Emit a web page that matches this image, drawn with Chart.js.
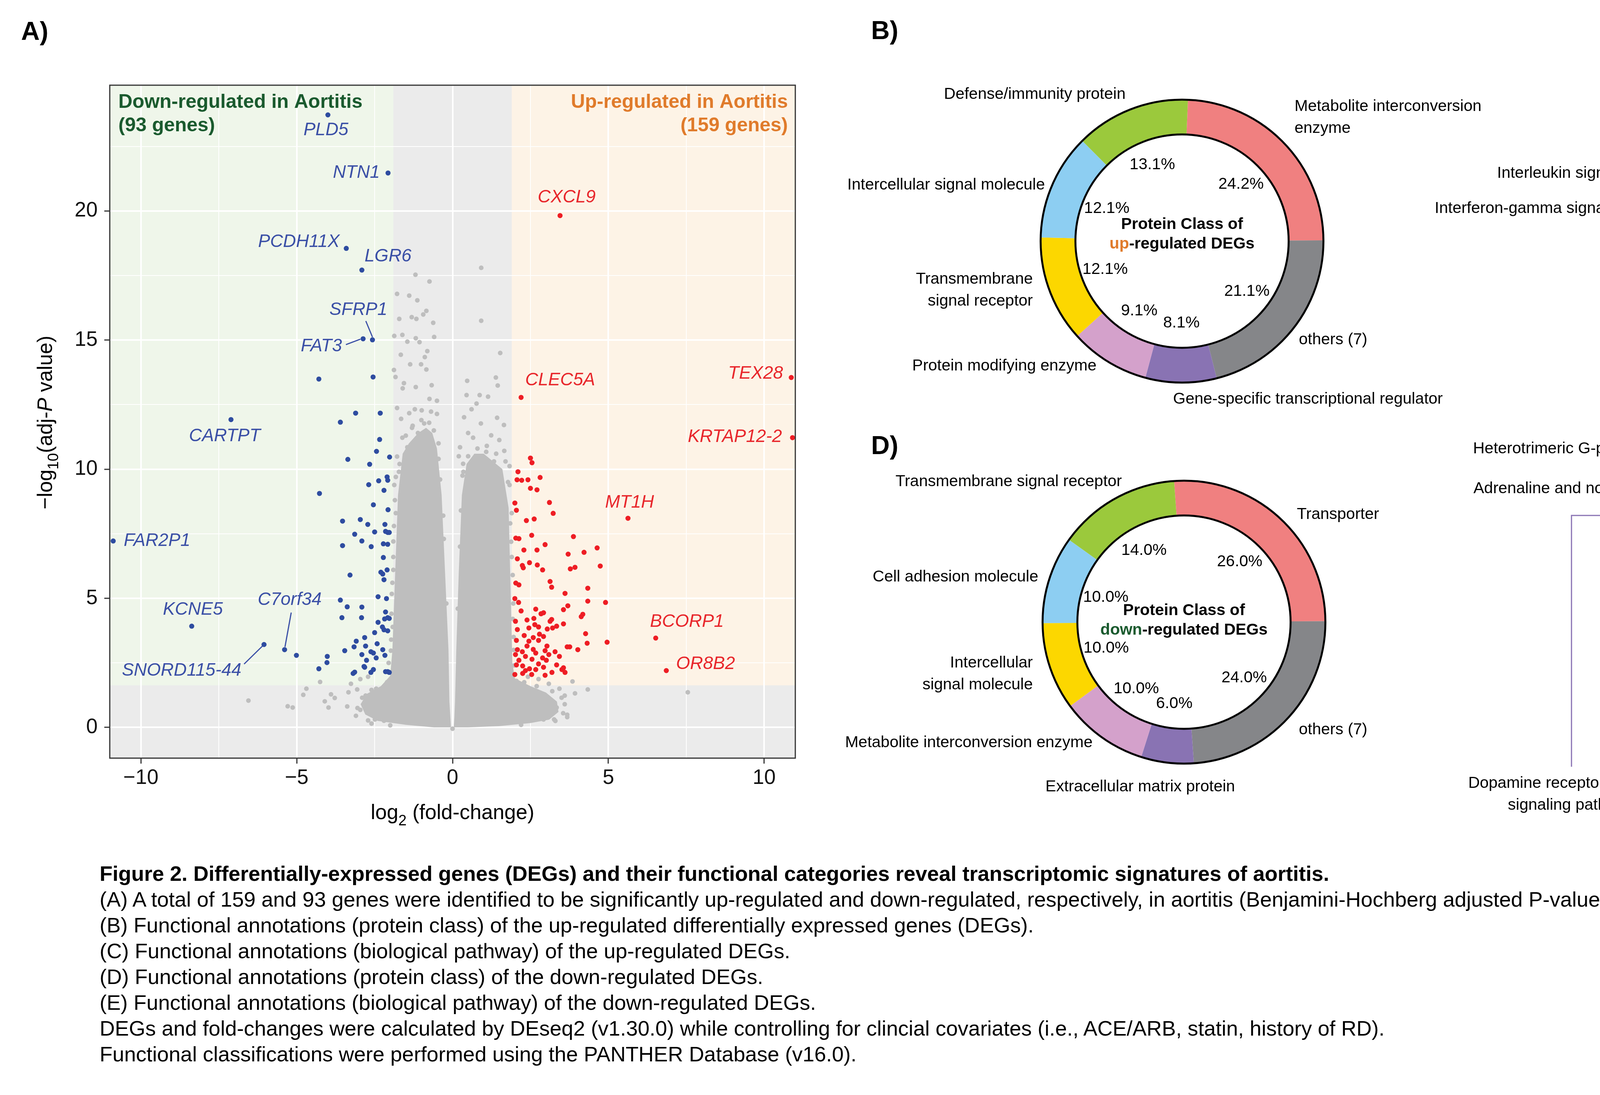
<!DOCTYPE html>
<html>
<head>
<meta charset="utf-8">
<script src="https://cdn.jsdelivr.net/npm/chart.js@4.4.1/dist/chart.umd.min.js"></script>
<style>
html, body { margin: 0; padding: 0; background: #fff; }
body { width: 5882px; height: 2802px; position: relative; overflow: hidden;
       font-family: "Liberation Sans", Arial, Helvetica, sans-serif; color: #000; }
canvas { position: absolute; }
.tag { position: absolute; font-weight: bold; font-size: 66px; line-height: 1; }
#caption { position: absolute; left: 255px; top: 2202px; font-size: 54px; line-height: 66px; white-space: nowrap; }
</style>
</head>
<body>
<div class="tag" style="left:54px;top:46px">A)</div>
<div class="tag" style="left:2230px;top:44px">B)</div>
<div class="tag" style="left:4113px;top:44px">C)</div>
<div class="tag" style="left:2230px;top:1106px">D)</div>
<div class="tag" style="left:4113px;top:1029px">E)</div>

<canvas id="volcano" width="2150" height="2150" style="left:0;top:0"></canvas>
<canvas id="donutB" width="1750" height="950" style="left:2050px;top:130px"></canvas>
<canvas id="donutC" width="2282" height="950" style="left:3600px;top:130px"></canvas>
<canvas id="donutD" width="1750" height="1000" style="left:2050px;top:1080px"></canvas>
<canvas id="donutE" width="2282" height="1040" style="left:3600px;top:1080px"></canvas>

<div id="caption">
<div><b>Figure 2. Differentially-expressed genes (DEGs) and their functional categories reveal transcriptomic signatures of aortitis.</b></div>
<div>(A) A total of 159 and 93 genes were identified to be significantly up-regulated and down-regulated, respectively, in aortitis (Benjamini-Hochberg adjusted P-value &lt; 0.01 and |log2(fold-change in mean expression values)| &gt; 2).</div>
<div>(B) Functional annotations (protein class) of the up-regulated differentially expressed genes (DEGs).</div>
<div>(C) Functional annotations (biological pathway) of the up-regulated DEGs.</div>
<div>(D) Functional annotations (protein class) of the down-regulated DEGs.</div>
<div>(E) Functional annotations (biological pathway) of the down-regulated DEGs.</div>
<div>DEGs and fold-changes were calculated by DEseq2 (v1.30.0) while controlling for clincial covariates (i.e., ACE/ARB, statin, history of RD).</div>
<div>Functional classifications were performed using the PANTHER Database (v16.0).</div>
</div>

<script>
const FONT = '"Liberation Sans", Arial, Helvetica, sans-serif';

// ---------- volcano data ----------
const xTicks = [-10, -7.5, -5, -2.5, 0, 2.5, 5, 7.5, 10];
const yTicks = [0, 2.5, 5, 7.5, 10, 12.5, 15, 17.5, 20, 22.5];
const fcCut = 1.9;      // shaded |log2FC| threshold
const sigCut = 1.63;    // shaded -log10 threshold

const downGenes = ["PLD5", "NTN1", "PCDH11X", "LGR6", "SFRP1", "FAT3", "CARTPT", "FAR2P1", "KCNE5", "C7orf34", "SNORD115-44"];
const downGeneX = [-4.00, -2.07, -3.41, -2.91, -2.57, -2.87, -7.11, -10.89, -8.37, -5.39, -6.05];
const downGeneY = [23.72, 21.47, 18.55, 17.71, 15.01, 15.05, 11.92, 7.22, 3.92, 3.01, 3.21];

const upGenes = ["CXCL9", "CLEC5A", "TEX28", "KRTAP12-2", "MT1H", "BCORP1", "OR8B2"];
const upGeneX = [3.45, 2.20, 10.87, 10.91, 5.63, 6.52, 6.86];
const upGeneY = [19.82, 12.78, 13.55, 11.22, 8.10, 3.46, 2.20];

const downX = [-4.29,-2.55,-3.60,-3.11,-2.32,-2.34,-2.44,-3.36,-2.02,-2.66,-2.10,-2.37,-2.08,-2.69,-2.20,-4.27,-2.54,-2.07,-3.53,-2.96,
  -2.72,-2.17,-2.15,-2.08,-2.50,-2.03,-3.14,-2.91,-3.53,-2.61,-2.22,-2.08,-2.22,-2.10,-2.30,-2.24,-3.29,-2.39,-3.60,-3.38,
  -2.91,-3.55,-2.15,-2.08,-2.03,-2.92,-2.18,-2.39,-2.25,-2.08,-2.20,-2.50,-2.82,-3.09,-2.42,-3.16,-5.01,-2.91,-2.62,-2.54,
  -2.24,-2.17,-4.02,-4.03,-2.76,-2.84,-2.82,-4.29,-3.14,-3.19,-2.62,-2.15,-2.08,-2.20,-2.12,-2.79,-2.03,-2.54,-3.46,-2.45];
const downY = [13.49,13.57,11.82,12.17,12.17,11.15,10.69,10.38,10.47,10.19,9.70,9.55,9.57,9.40,9.18,9.06,8.62,8.43,7.99,8.05,
  7.86,7.86,7.59,7.55,7.57,7.55,7.48,7.22,7.04,7.00,7.11,7.09,6.58,6.10,6.01,5.94,5.90,5.06,4.93,4.67,
  4.66,4.25,4.47,4.25,4.22,4.25,4.20,4.07,3.89,3.74,3.78,3.67,3.48,3.34,3.24,3.12,2.79,2.82,2.93,2.88,
  3.01,2.79,2.75,2.51,2.60,2.36,2.33,2.27,2.14,2.09,2.13,2.16,2.16,5.72,4.99,3.15,2.13,2.24,2.97,2.69];

const upX = [2.50,2.55,2.10,2.07,2.22,2.42,2.81,2.50,2.71,2.00,2.05,3.11,3.23,2.37,2.62,2.03,2.13,2.54,2.97,3.88,
  2.29,2.71,4.64,4.22,3.71,2.08,2.47,2.24,2.27,2.72,2.89,3.78,3.93,4.74,2.03,2.13,3.13,3.18,3.61,4.34,
  3.70,4.34,4.91,2.00,2.12,2.20,2.67,2.84,2.92,3.56,4.18,4.13,2.02,2.39,2.61,3.13,3.34,3.56,2.08,2.45,
  2.76,3.04,3.21,4.27,2.30,2.59,2.92,2.05,2.45,2.76,4.96,4.32,3.68,3.03,4.02,3.76,2.08,2.59,2.24,2.02,
  2.34,2.67,3.09,3.29,2.13,2.55,2.89,3.43,2.05,2.25,2.76,3.01,2.47,2.92,3.51,3.61,2.00,2.25,2.54,2.97,
  3.19,3.56,2.34,3.34,2.67,3.18,2.64,2.79,2.39,2.97];
const upY = [10.43,10.25,9.90,9.59,9.57,9.59,9.68,9.26,9.20,8.69,8.41,8.71,8.29,8.01,8.07,7.33,7.31,7.44,7.08,7.39,
  6.87,6.87,6.95,6.78,6.71,6.53,6.38,6.27,6.18,6.29,6.10,6.14,6.20,6.25,5.59,5.52,5.65,5.43,5.19,5.39,
  4.71,4.89,4.84,4.99,4.84,4.51,4.58,4.40,4.44,4.56,4.38,4.29,4.11,4.16,4.22,4.11,3.92,4.01,3.79,3.85,
  3.89,3.81,3.85,3.63,3.56,3.48,3.52,3.37,3.34,3.37,3.30,3.26,3.12,3.15,3.01,3.12,3.01,3.02,2.93,2.82,
  2.75,2.88,2.82,2.93,2.60,2.64,2.69,2.75,2.42,2.38,2.46,2.60,2.27,2.33,2.24,2.13,2.05,2.09,2.05,2.02,
  2.13,2.31,2.20,2.42,2.24,4.18,3.98,3.61,3.15,2.97];

// non-significant genes scattered outside / along the edge of the dense core
const nsX = [-1.19,-0.74,0.92,-1.78,-1.39,-1.13,-0.84,-1.31,-1.16,-0.62,-1.71,0.92,-0.94,-1.87,-1.61,-1.45,-1.18,-1.06,-0.59,-1.66,
  -0.81,-0.89,1.53,-1.88,-1.36,-1.01,-0.84,-1.83,-1.56,-1.18,-0.67,0.47,1.39,1.45,-1.60,-0.50,-0.74,0.45,0.87,1.14,
  0.77,0.37,1.43,1.65,-1.78,-1.65,-1.39,-1.21,-0.99,-0.69,-0.50,0.61,0.91,0.50,0.66,1.24,1.50,0.24,1.08,1.66,
  1.33,1.83,0.74,0.34,-1.11,-1.28,-0.91,-1.61,-1.45,-1.78,-1.87,-1.72,-1.82,-1.90,-1.90,-1.95,-1.92,-1.98,1.83,1.90,
  1.88,1.93,1.95,1.96,1.98,0.32,-0.45,0.20,
  -6.55,-5.29,-5.13,-4.79,-4.69,-4.25,-4.10,-3.98,-3.90,-3.78,-3.38,-3.34,-3.06,-3.26,-2.96,-2.71,-2.79,-2.62,-2.49,-2.71,
  -2.20,-2.96,3.26,3.34,3.68,3.43,3.60,3.85,3.93,4.34,3.68,2.92,3.03,3.09,2.76,2.42,7.55,2.25,2.67,2.25,0.00,
  -1.70,-1.50,-1.30,-1.00,-0.75,-0.60,-0.45,-0.40,-1.82,-1.85,-1.88,-1.90,-1.93,-1.96,-1.97,-2.05,-2.10,-2.45,-2.60,-2.90,
  -3.05,-3.10,-2.60,-2.00,-0.30,-0.28,-0.20,
  0.35,0.50,0.80,1.10,1.40,1.70,1.78,1.85,1.90,1.93,1.96,2.05,2.30,2.70,3.20,3.50,3.60,3.55,3.30,2.20,
  0.27,0.24,0.17];
const nsY = [17.53,17.27,17.80,16.79,16.72,16.54,16.13,15.89,15.82,15.67,15.82,15.75,15.99,15.16,15.20,14.94,15.07,14.92,15.12,14.43,
  14.57,14.34,14.50,13.84,14.06,14.06,13.86,13.57,13.33,13.18,13.25,13.42,13.55,13.24,13.13,12.65,12.72,12.87,12.87,12.81,
  12.54,12.01,11.99,11.71,12.37,11.95,12.17,12.32,12.28,12.23,12.14,12.32,11.77,11.40,11.22,11.31,11.13,10.85,10.67,10.71,
  10.30,10.12,10.39,10.21,11.40,11.68,11.77,11.22,10.85,10.49,9.39,9.90,8.30,7.20,6.10,5.17,3.89,2.97,9.39,8.30,
  7.19,5.90,4.80,3.50,2.40,9.75,11.00,10.50,
  1.04,0.82,0.77,1.26,1.50,1.76,1.01,0.77,1.28,1.14,0.81,1.36,1.47,1.69,1.87,1.96,1.23,0.77,0.31,0.27,
  0.26,0.68,0.31,0.77,0.49,1.50,1.23,1.78,1.32,1.47,0.40,0.31,1.14,1.69,1.87,1.96,1.36,0.59,0.86,1.32,-0.05,
  10.20,11.30,11.60,11.90,11.80,11.50,10.40,9.60,9.70,8.80,7.80,6.60,5.60,4.40,3.40,2.50,1.75,1.50,1.45,1.15,
  0.75,0.45,0.15,0.08,8.20,7.30,4.80,
  9.90,10.50,10.80,10.90,10.60,10.30,9.50,7.90,6.60,4.20,3.00,1.80,1.75,1.60,1.40,1.15,0.90,0.55,0.25,0.10,
  8.40,7.00,4.60];

// outline of the dense cloud of non-significant genes (two lobes)
const coreLeftX = [-0.05,-0.07,-0.10,-0.13,-0.24,-0.35,-0.50,-0.65,-0.85,-1.10,-1.40,-1.60,-1.75,-1.84,-1.93,-2.00,-2.30,-2.75,-2.95,-2.80,-2.40,-1.50,-0.60,-0.20];
const coreLeftY = [0.00,0.40,1.00,3.00,6.00,9.00,10.80,11.40,11.60,11.40,11.00,10.60,9.00,6.00,3.00,2.00,1.60,1.30,0.90,0.50,0.25,0.10,0.00,0.00];
const coreRightX = [0.04,0.06,0.08,0.12,0.20,0.30,0.45,0.70,1.00,1.30,1.60,1.80,1.87,1.92,2.00,2.50,3.00,3.35,3.40,3.10,2.50,1.50,0.50];
const coreRightY = [0.00,0.40,1.00,3.00,6.00,9.00,10.20,10.60,10.60,10.30,10.00,8.50,5.00,2.50,1.90,1.60,1.35,1.00,0.60,0.30,0.17,0.05,0.00];

// label placement (pixels from the gene's point)
const geneLabelLayout = {
  "PLD5": { align: "center", dx: -5, dy: 39 },
  "NTN1": { align: "right", dx: -21, dy: 0 },
  "PCDH11X": { align: "right", dx: -17, dy: -16 },
  "LGR6": { align: "center", dx: 67, dy: -35 },
  "SFRP1": { align: "center", dx: -36, dy: -76, line: [-17, -48, 0, -7] },
  "FAT3": { align: "right", dx: -54, dy: 19, line: [-44, 15, -7, 1] },
  "CARTPT": { align: "center", dx: -16, dy: 42 },
  "FAR2P1": { align: "left", dx: 27, dy: 0 },
  "KCNE5": { align: "center", dx: 3, dy: -42 },
  "C7orf34": { align: "center", dx: 13, dy: -127, line: [17, -95, 1, -7] },
  "SNORD115-44": { align: "right", dx: -58, dy: 67, line: [-51, 50, -4, 4] },
  "CXCL9": { align: "center", dx: 17, dy: -46 },
  "CLEC5A": { align: "center", dx: 100, dy: -44 },
  "TEX28": { align: "right", dx: -21, dy: -10 },
  "KRTAP12-2": { align: "right", dx: -27, dy: -2 },
  "MT1H": { align: "center", dx: 4, dy: -40 },
  "BCORP1": { align: "center", dx: 80, dy: -42 },
  "OR8B2": { align: "left", dx: 25, dy: -17 }
};

const isMajor = v => Math.abs(v % 5) < 1e-9;
const fmtTick = v => (v < 0 ? "\u2212" + Math.abs(v) : String(v));
const pts = (xs, ys) => xs.map((v, i) => ({ x: v, y: ys[i] }));

function richText(ctx, parts, x, y, size) {
  const fontOf = s => (s === "i" ? "italic " : "") + Math.round(s === "sub" ? size * 0.72 : size) + "px " + FONT;
  let w = 0;
  parts.forEach(p => { ctx.font = fontOf(p[1]); w += ctx.measureText(p[0]).width; });
  let cx = x - w / 2;
  ctx.textAlign = "left";
  ctx.textBaseline = "alphabetic";
  parts.forEach(p => {
    ctx.font = fontOf(p[1]);
    ctx.fillText(p[0], cx, y + (p[1] === "sub" ? size * 0.3 : 0));
    cx += ctx.measureText(p[0]).width;
  });
}

function drawGeneLabels(ctx, xs, ys, names, gx, gy, color) {
  ctx.fillStyle = color;
  ctx.strokeStyle = color;
  ctx.lineWidth = 3;
  ctx.font = "italic 46px " + FONT;
  ctx.textBaseline = "middle";
  names.forEach((n, i) => {
    const L = geneLabelLayout[n];
    const px = xs.getPixelForValue(gx[i]), py = ys.getPixelForValue(gy[i]);
    ctx.textAlign = L.align;
    ctx.fillText(n, px + L.dx, py + L.dy);
    if (L.line) {
      ctx.beginPath();
      ctx.moveTo(px + L.line[0], py + L.line[1]);
      ctx.lineTo(px + L.line[2], py + L.line[3]);
      ctx.stroke();
    }
  });
}

const volcanoDeco = {
  id: "volcanoDeco",
  beforeDraw(chart) {
    const { ctx, chartArea: a, scales: { x, y } } = chart;
    const yb = y.getPixelForValue(sigCut);
    const xl = x.getPixelForValue(-fcCut), xr = x.getPixelForValue(fcCut);
    ctx.save();
    ctx.fillStyle = "#EBEBEB";
    ctx.fillRect(a.left, a.top, a.width, a.height);
    ctx.fillStyle = "#EFF6EA";
    ctx.fillRect(a.left, a.top, xl - a.left, yb - a.top);
    ctx.fillStyle = "#FDF3E6";
    ctx.fillRect(xr, a.top, a.right - xr, yb - a.top);
    ctx.restore();
  },
  beforeDatasetsDraw(chart) {
    const { ctx, chartArea: a, scales: { x, y } } = chart;
    ctx.save();
    ctx.beginPath();
    ctx.rect(a.left, a.top, a.width, a.height);
    ctx.clip();
    ctx.fillStyle = "#BEBEBE";
    [[coreLeftX, coreLeftY], [coreRightX, coreRightY]].forEach(([cx, cy]) => {
      ctx.beginPath();
      cx.forEach((v, i) => {
        const px = x.getPixelForValue(v), py = y.getPixelForValue(cy[i]);
        if (i === 0) ctx.moveTo(px, py); else ctx.lineTo(px, py);
      });
      ctx.closePath();
      ctx.fill();
    });
    ctx.restore();
  },
  afterDatasetsDraw(chart) {
    const { ctx, chartArea: a, scales: { x, y } } = chart;
    ctx.save();
    drawGeneLabels(ctx, x, y, downGenes, downGeneX, downGeneY, "#3A4FA6");
    drawGeneLabels(ctx, x, y, upGenes, upGeneX, upGeneY, "#E8262B");

    ctx.font = "bold 50px " + FONT;
    ctx.textBaseline = "alphabetic";
    ctx.fillStyle = "#1A5A2E";
    ctx.textAlign = "left";
    ctx.fillText("Down-regulated in Aortitis", a.left + 22, a.top + 58);
    ctx.fillText("(93 genes)", a.left + 22, a.top + 118);
    ctx.fillStyle = "#E07B2B";
    ctx.textAlign = "right";
    ctx.fillText("Up-regulated in Aortitis", a.right - 19, a.top + 58);
    ctx.fillText("(159 genes)", a.right - 19, a.top + 118);

    ctx.strokeStyle = "#333";
    ctx.lineWidth = 3;
    ctx.strokeRect(a.left, a.top, a.width, a.height);
    ctx.restore();
  },
  afterDraw(chart) {
    const { ctx, chartArea: a } = chart;
    ctx.save();
    ctx.fillStyle = "#000";
    richText(ctx, [["log", "n"], ["2", "sub"], [" (fold-change)", "n"]], (a.left + a.right) / 2, 2096, 53);
    ctx.translate(114, 1081);
    ctx.rotate(-Math.PI / 2);
    richText(ctx, [["\u2212log", "n"], ["10", "sub"], ["(adj-", "n"], ["P", "i"], [" value)", "n"]], 0, 19, 53);
    ctx.restore();
  }
};

const axisCommon = (ticksArr) => ({
  type: "linear",
  afterBuildTicks: s => { s.ticks = ticksArr.map(v => ({ value: v })); },
  border: { display: false },
  grid: {
    color: "#FFFFFF",
    lineWidth: c => (c.tick && isMajor(c.tick.value) ? 4 : 2),
    tickColor: c => (c.tick && isMajor(c.tick.value) ? "#333333" : "rgba(0,0,0,0)"),
    tickLength: 14,
    tickWidth: 3
  },
  ticks: {
    autoSkip: false,
    maxRotation: 0,
    color: "#111",
    font: { size: 53, family: FONT },
    callback: v => (isMajor(v) ? fmtTick(v) : "")
  }
});

const xAxis = axisCommon(xTicks);
xAxis.min = -11; xAxis.max = 11;
xAxis.afterFit = s => { s.height = 180; };
xAxis.ticks.padding = 6;
const yAxis = axisCommon(yTicks);
yAxis.min = -1.19; yAxis.max = 24.87;
yAxis.afterFit = s => { s.width = 281; };
yAxis.ticks.padding = 17;

new Chart(document.getElementById("volcano"), {
  type: "scatter",
  data: {
    datasets: [
      { label: "NS", data: pts(nsX, nsY), backgroundColor: "#BEBEBE", pointRadius: 6, borderWidth: 0, order: 3 },
      { label: "Down", data: pts(downX.concat(downGeneX), downY.concat(downGeneY)), backgroundColor: "#2E4CA0", pointRadius: 6.5, borderWidth: 0, order: 2 },
      { label: "Up", data: pts(upX.concat(upGeneX), upY.concat(upGeneY)), backgroundColor: "#EE1D24", pointRadius: 6.5, borderWidth: 0, order: 1 }
    ]
  },
  options: {
    responsive: false,
    animation: false,
    devicePixelRatio: 1,
    events: [],
    layout: { padding: { left: 0, top: 218, right: 114, bottom: 30 } },
    plugins: { legend: { display: false }, tooltip: { enabled: false } },
    scales: { x: xAxis, y: yAxis }
  },
  plugins: [volcanoDeco]
});

// ---------- donut data ----------
const ringColors = ["#F08080", "#858689", "#8973B3", "#D4A1CB", "#FCD700", "#8DCEF2", "#9BC93C"];

const bLabels = ["Metabolite interconversion enzyme", "others (7)", "Gene-specific transcriptional regulator",
  "Protein modifying enzyme", "Transmembrane signal receptor", "Intercellular signal molecule", "Defense/immunity protein"];
const bValues = [24.2, 21.1, 8.1, 9.1, 12.1, 12.1, 13.1];

const cLabels = ["Inflammation medication by chemokine and cytokine signaling pathway", "others (15)",
  "Interferon-gamma signaling pathway", "Interleukin signaling pathway", "B cell activation", "Blood coagulation", "Parkinson disease"];
const cValues = [20.7, 51.0, 3.4, 3.4, 6.9, 6.9, 6.9];

const dLabels = ["Transporter", "others (7)", "Extracellular matrix protein", "Metabolite interconversion enzyme",
  "Intercellular signal molecule", "Cell adhesion molecule", "Transmembrane signal receptor"];
const dValues = [26.0, 24.0, 6.0, 10.0, 10.0, 10.0, 14.0];

const eLabels = ["Alpha adrendergic receptor signaling pathway", "Cadherin signaling pathway", "Wnt signaling pathway",
  "others (35)", "Dopamine receptor mediated signaling pathway", "Adrenaline and noradrenaline biosynthesis",
  "Heterotrimeric G-protein signaling pathway-Gi alpha and Gs alpha mediated pathway"];
const eValues = [5.4, 8.8, 10.6, 62.6, 3.6, 3.6, 5.4];
const eColors = ["#8DCEF2", "#9BC93C", "#F08080", "#858689", "#8973B3", "#D4A1CB", "#FCD700"];

// layout of each donut: centre (page px), rotation, label offsets from centre
const donutLayouts = {
  donutB: {
    left: 2050, top: 130, cx: 3026, cy: 617, rotation: 2.4,
    title: ["Protein Class of", "up", "-regulated DEGs"], titleDy: -42, accent: "#E07B2B",
    outer: [
      { align: "left", dx: 288, dy: -344, brk: 2 },
      { align: "left", dx: 299, dy: 253 },
      { align: "left", dx: -23, dy: 405 },
      { align: "right", dx: -219, dy: 320 },
      { align: "right", dx: -382, dy: 98, brk: 1 },
      { align: "right", dx: -351, dy: -143 },
      { align: "center", dx: -377, dy: -375 }
    ]
  },
  donutC: {
    left: 3600, top: 130, cx: 4704, cy: 615, rotation: 16,
    title: ["Biological pathway of", "up", "-regulated DEGs"], titleDy: 24, accent: "#E07B2B",
    outer: [
      { align: "left", dx: 337, dy: -242, brk: 4 },
      { align: "center", dx: -23, dy: 407 },
      { align: "right", dx: -368, dy: -81 },
      { align: "right", dx: -345, dy: -171 },
      { align: "right", dx: -288, dy: -261 },
      { align: "left", dx: -504, dy: -360 },
      { align: "left", dx: 1, dy: -400 }
    ]
  },
  donutD: {
    left: 2050, top: 1080, cx: 3031, cy: 1592, rotation: -4,
    title: ["Protein Class of", "down", "-regulated DEGs"], titleDy: -29, accent: "#1A5A2E",
    outer: [
      { align: "left", dx: 289, dy: -275 },
      { align: "left", dx: 294, dy: 276 },
      { align: "center", dx: -112, dy: 422 },
      { align: "right", dx: -234, dy: 309 },
      { align: "right", dx: -387, dy: 105, brk: 1 },
      { align: "right", dx: -373, dy: -115 },
      { align: "right", dx: -159, dy: -359 }
    ]
  },
  donutE: {
    left: 3600, top: 1080, cx: 4709, cy: 1605, rotation: 0,
    title: ["Biological pathway of", "down", "-regulated DEGs"], titleDy: 12, accent: "#1A5A2E",
    leaders: [45, 46, 0, 0, 50, 30, 19],
    outer: [
      { align: "left", dx: 144, dy: -384 },
      { align: "left", dx: 251, dy: -298 },
      { align: "left", dx: 364, dy: -129 },
      { align: "center", dx: -7, dy: 403 },
      { align: "center", dx: -686, dy: 400, brk: 3 },
      { align: "right", dx: -162, dy: -354 },
      { align: "left", dx: -938, dy: -456 }
    ],
    paths: [
      { color: 6, pts: [[-84, -412], [-58, -367]] },
      { color: 0, pts: [[127, -383], [76, -363]] },
      { color: 4, pts: [[-233, -286], [-686, -286], [-686, 357]] }
    ]
  }
};

function makeDonut(id, labels, values, colors) {
  const L = donutLayouts[id];
  const canvas = document.getElementById(id);
  const R = 362;
  const ccx = L.cx - L.left, ccy = L.cy - L.top;
  const deco = {
    id: "ringDeco",
    afterDatasetsDraw(chart) {
      const ctx = chart.ctx;
      const arcs = chart.getDatasetMeta(0).data;
      const p0 = arcs[0].getProps(["x", "y", "innerRadius", "outerRadius"], true);
      const cx = p0.x, cy = p0.y;
      ctx.save();
      // ring outlines
      ctx.strokeStyle = "#000";
      ctx.lineWidth = 5;
      [p0.outerRadius, p0.innerRadius].forEach(r => {
        ctx.beginPath(); ctx.arc(cx, cy, r, 0, Math.PI * 2); ctx.stroke();
      });
      // percentage labels
      ctx.fillStyle = "#000";
      ctx.font = "41px " + FONT;
      ctx.textAlign = "center";
      ctx.textBaseline = "middle";
      arcs.forEach((arc, i) => {
        const p = arc.getProps(["startAngle", "endAngle", "innerRadius"], true);
        const mid = (p.startAngle + p.endAngle) / 2;
        const txt = values[i].toFixed(1) + "%";
        const lead = L.leaders ? L.leaders[i] : 0;
        if (lead > 0) {
          const ex = cx + p.innerRadius * Math.cos(mid), ey = cy + p.innerRadius * Math.sin(mid);
          ctx.strokeStyle = colors[i];
          ctx.lineWidth = 3;
          ctx.beginPath(); ctx.moveTo(ex, ey); ctx.lineTo(ex, ey + lead); ctx.stroke();
          ctx.fillText(txt, ex + 18, ey + lead + 30);
        } else {
          const r = p.innerRadius - 63;
          ctx.fillText(txt, cx + r * Math.cos(mid), cy + r * Math.sin(mid));
        }
      });
      // outer category labels
      labels.forEach((lab, i) => {
        const o = L.outer[i];
        const words = lab.split(" ");
        const lines = o.brk ? [words.slice(0, o.brk).join(" "), words.slice(o.brk).join(" ")] : [lab];
        ctx.textAlign = o.align;
        lines.forEach((ln, k) => ctx.fillText(ln, cx + o.dx, cy + o.dy + k * 56));
      });
      // connector lines
      (L.paths || []).forEach(pth => {
        ctx.strokeStyle = colors[pth.color];
        ctx.lineWidth = 3;
        ctx.beginPath();
        pth.pts.forEach((q, k) => (k ? ctx.lineTo(cx + q[0], cy + q[1]) : ctx.moveTo(cx + q[0], cy + q[1])));
        ctx.stroke();
      });
      // centre title
      ctx.font = "bold 41px " + FONT;
      ctx.textAlign = "center";
      ctx.fillText(L.title[0], cx, cy + L.titleDy);
      const w1 = ctx.measureText(L.title[1]).width, w2 = ctx.measureText(L.title[2]).width;
      const sx = cx - (w1 + w2) / 2, ty = cy + L.titleDy + 50;
      ctx.textAlign = "left";
      ctx.fillStyle = L.accent;
      ctx.fillText(L.title[1], sx, ty);
      ctx.fillStyle = "#000";
      ctx.fillText(L.title[2], sx + w1, ty);
      ctx.restore();
    }
  };
  new Chart(canvas, {
    type: "doughnut",
    data: {
      labels: labels,
      datasets: [{ data: values, backgroundColor: colors, borderWidth: 0, hoverOffset: 0, offset: 0, spacing: 0 }]
    },
    options: {
      responsive: false,
      animation: false,
      devicePixelRatio: 1,
      events: [],
      cutout: "75.4%",
      rotation: L.rotation,
      layout: { padding: { left: ccx - R, top: ccy - R, right: canvas.width - ccx - R, bottom: canvas.height - ccy - R } },
      plugins: { legend: { display: false }, tooltip: { enabled: false } }
    },
    plugins: [deco]
  });
}

makeDonut("donutB", bLabels, bValues, ringColors);
makeDonut("donutC", cLabels, cValues, ringColors);
makeDonut("donutD", dLabels, dValues, ringColors);
makeDonut("donutE", eLabels, eValues, eColors);
</script>
</body>
</html>
